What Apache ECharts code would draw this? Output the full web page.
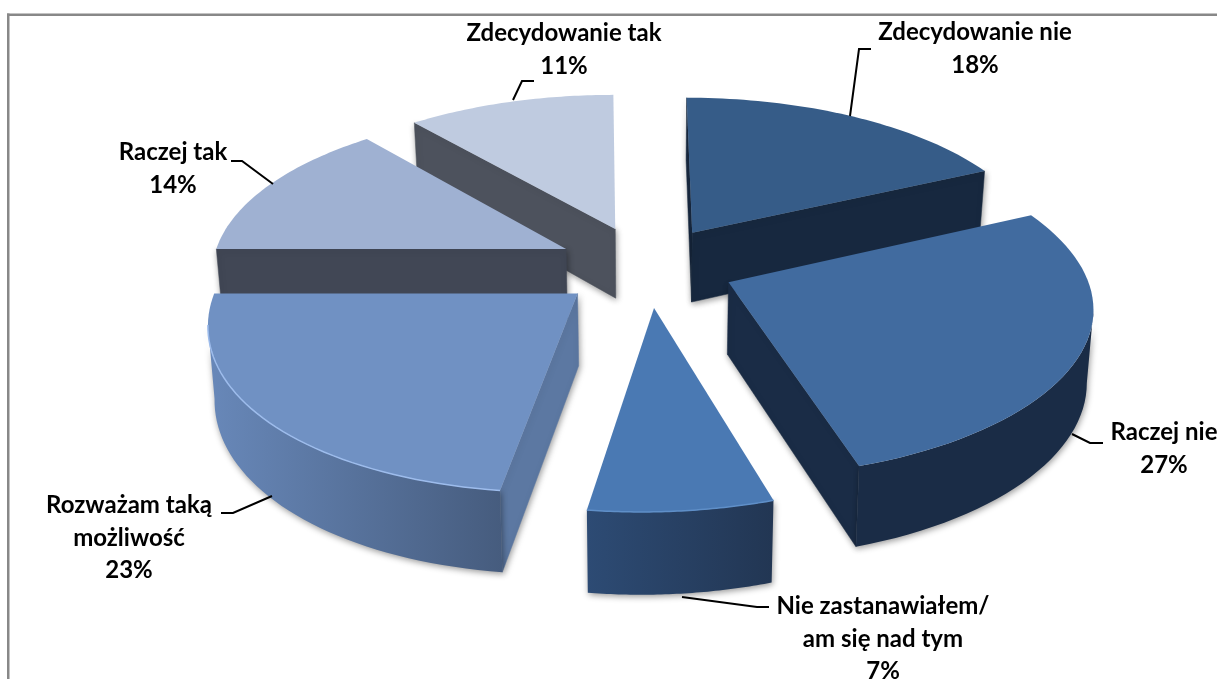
<!DOCTYPE html>
<html>
<head>
<meta charset="utf-8">
<style>
  html, body { margin: 0; padding: 0; background: #fff; }
  #chart { width: 1217px; height: 679px; }
</style>
<script src="https://cdn.jsdelivr.net/npm/echarts@6/dist/echarts.min.js"></script>
</head>
<body>
<div id="chart"></div>
<script>
// dane
const categories = [
  "Zdecydowanie nie",
  "Raczej nie",
  "Nie zastanawiałem/\nam się nad tym",
  "Rozważam taką\nmożliwość",
  "Raczej tak",
  "Zdecydowanie tak",
];
const shares = [18, 27, 7, 23, 14, 11];

// kolory: gora, sciana boczna, zewnetrzny brzeg (lewo -> prawo)
const topColors = ["#365c88", "#416b9f", "#4a79b3", "#7091c3", "#9fb1d2", "#bfcbe0"];
const cutColors = ["#17283f", "#1a2c46", "#223653", "#5c78a2", "#414755", "#4d525d"];
const rimFrom = ["#17283f", "#1a2c46", "#2d4b74", "#6888b9", "#414755", "#4d525d"];
const rimTo = ["#17283f", "#1a2c46", "#223653", "#465c7e", "#414755", "#4d525d"];

// polozenie etykiet i linii odniesienia
const labelPos = [[975, 49], [1164, 449], [883, 639], [129, 538], [173, 169], [564, 50]];
const leaders = [
  [[850, 116], [859, 49], [871, 49]],
  [[1072, 434], [1090, 443], [1103, 443]],
  [[682, 597], [757, 607], [769, 607]],
  [[272, 496], [233, 513], [221, 513]],
  [[273, 184], [242, 161], [231, 161]],
  [[513, 100], [522, 81], [534, 81]],
];

// kolejnosc malowania: od tylu do przodu
const paintOrder = [0, 5, 4, 1, 3, 2];

// rzut perspektywiczny dysku
const CX = 646, CY = 266, RX = 355, RY = 162.5;
const PERSP = 0.14, EXPLODE = 0.25, DEPTH = 71;

function project(u, v) {
  const s = 1 / (1 - PERSP * v);
  let shift = v > 0 ? 10 * v * v : 0;
  if (u < 0 && v < 0) shift = 7 * Math.min(-v, 1);
  return [CX + RX * u * s - shift, CY + RY * v * s, s];
}
function drop(p) {
  return [650 + (p[0] - 650) * 0.985, p[1] + DEPTH * Math.pow(p[2], 0.8)];
}

const starts = [];
shares.reduce((sum, v, i) => { starts[i] = sum; return sum + v; }, 0);
const seriesData = paintOrder.map((i) => [i, starts[i], shares[i]]);

function renderSlice(params, api) {
  const i = api.value(0);
  const a0 = (api.value(1) / 100) * Math.PI * 2;
  const a1 = ((api.value(1) + api.value(2)) / 100) * Math.PI * 2;
  const mid = (a0 + a1) / 2;
  const ou = EXPLODE * Math.sin(mid);
  const ov = -EXPLODE * Math.cos(mid);

  const apex = project(ou, ov);
  const rim = [];
  const steps = 48;
  for (let k = 0; k <= steps; k++) {
    const a = a0 + ((a1 - a0) * k) / steps;
    rim.push(project(ou + Math.sin(a), ov - Math.cos(a)));
  }

  const children = [];
  const shadow = { shadowBlur: 6, shadowColor: "rgba(0,0,0,0.4)", shadowOffsetX: 1, shadowOffsetY: 2 };
  const wall = (a, b, fill) => {
    children.push({
      type: "polygon",
      shape: { points: [a, b, drop(b), drop(a)] },
      style: { fill: fill, stroke: fill, lineWidth: 0.5, ...shadow },
    });
  };

  // sciany ciecia widoczne tylko gdy krawedz idzie w lewo
  const first = rim[0];
  const last = rim[rim.length - 1];
  if (first[0] < apex[0]) wall(apex, first, cutColors[i]);
  if (apex[0] < last[0]) wall(last, apex, cutColors[i]);

  // zewnetrzny brzeg
  const front = [];
  for (let k = 0; k < rim.length; k++) {
    const next = rim[k + 1] || rim[k];
    const prev = rim[k - 1] || rim[k];
    if (next[0] < rim[k][0] || prev[0] > rim[k][0]) front.push(rim[k]);
  }
  if (front.length > 1) {
    children.push({
      type: "polygon",
      shape: { points: front.concat(front.map(drop).reverse()) },
      style: {
        fill: new echarts.graphic.LinearGradient(0, 0, 1, 0, [
          { offset: 0, color: rimFrom[i] },
          { offset: 1, color: rimTo[i] },
        ]),
        ...shadow,
      },
    });
  }

  // gora plasterka
  children.push({
    type: "polygon",
    shape: { points: [apex].concat(rim) },
    style: { fill: topColors[i] },
  });
  if (i === 3 || i === 2) {
    children.push({
      type: "polyline",
      shape: { points: front },
      style: { fill: null, stroke: i === 3 ? "#9dbcec" : "#5f8fc8", lineWidth: 1.5 },
    });
  }

  // linia odniesienia i etykieta
  children.push({
    type: "polyline",
    shape: { points: leaders[i] },
    style: { fill: null, stroke: "#000", lineWidth: 2 },
  });
  children.push({
    type: "text",
    style: {
      text: categories[i] + "\n" + api.value(2) + "%",
      x: labelPos[i][0],
      y: labelPos[i][1],
      align: "center",
      verticalAlign: "middle",
      fontFamily: "Lato",
      fontWeight: "bold",
      fontSize: 24,
      lineHeight: 32.5,
      fill: "#000",
    },
  });
  return { type: "group", children: children };
}

const chart = echarts.init(document.getElementById("chart"));
chart.setOption({
  animation: false,
  backgroundColor: "#fff",
  graphic: [
    { type: "rect", shape: { x: 7, y: 13.5, width: 1210, height: 2.5 }, style: { fill: "#888" } },
    { type: "rect", shape: { x: 7, y: 13.5, width: 2.5, height: 666 }, style: { fill: "#888" } },
  ],
  series: [
    {
      type: "custom",
      coordinateSystem: "none",
      clip: false,
      renderItem: renderSlice,
      data: seriesData,
    },
  ],
});
</script>
</body>
</html>
